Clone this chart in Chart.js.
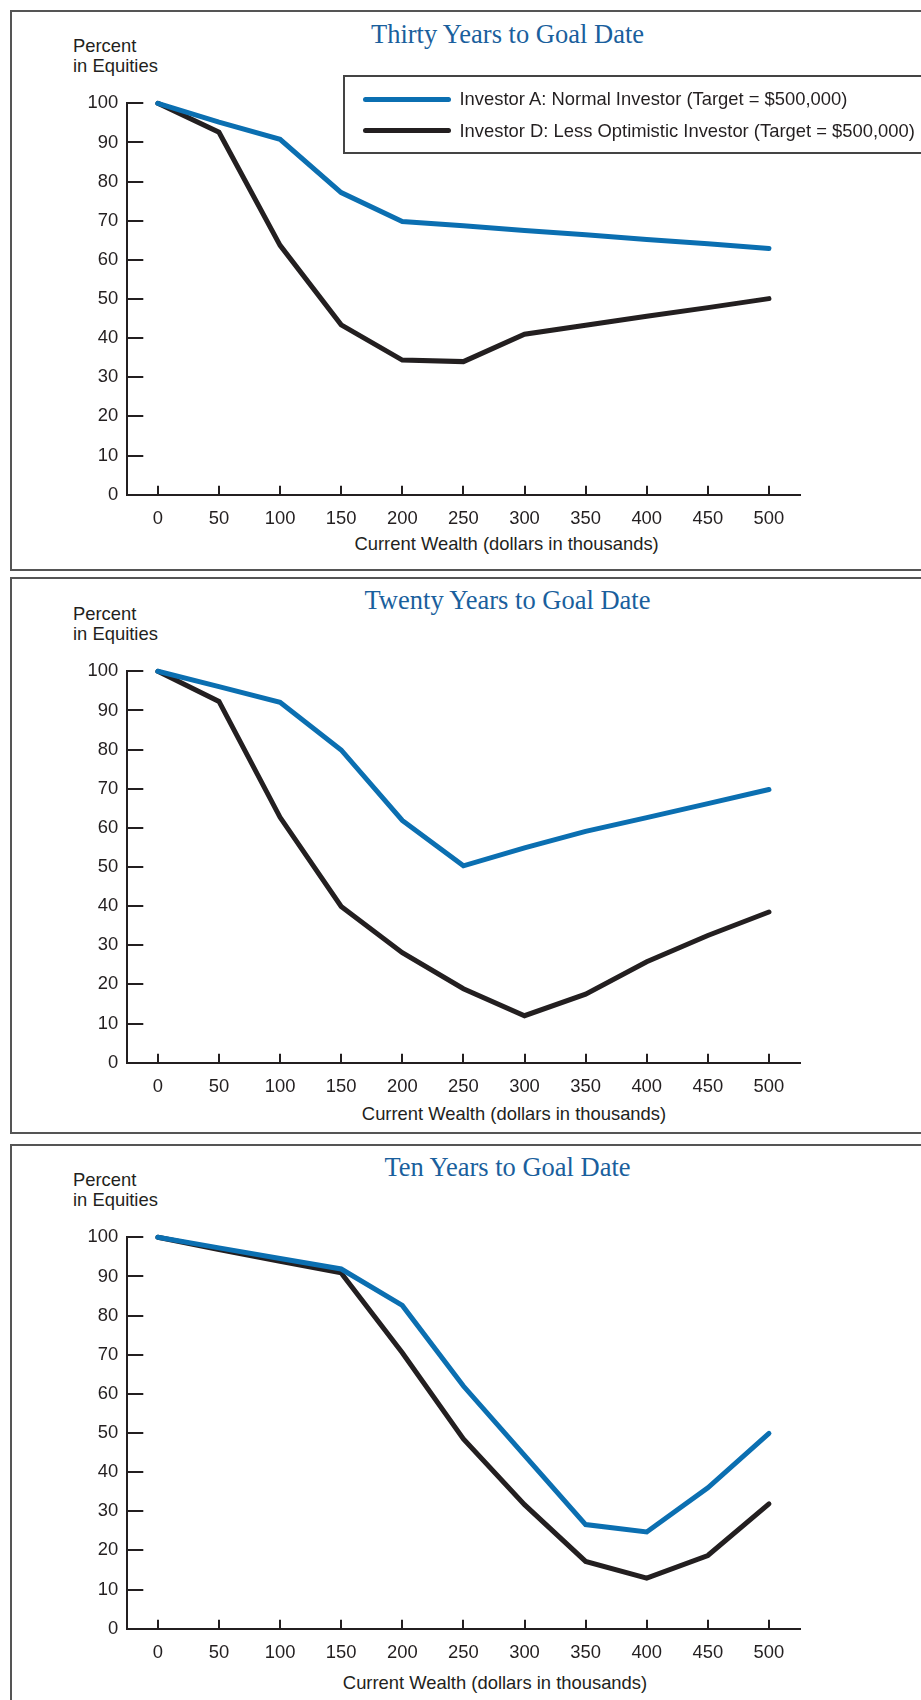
<!DOCTYPE html>
<html>
<head>
<meta charset="utf-8">
<script src="https://cdn.jsdelivr.net/npm/chart.js@4.4.1/dist/chart.umd.min.js"></script>
<style>
  html, body { margin: 0; padding: 0; width: 921px; height: 1700px; overflow: hidden; background: #fff; }
  body { position: relative; font-family: "Liberation Sans", Arial, Helvetica, sans-serif; color: #231f20; }
  .frame { position: absolute; left: 10px; width: 1000px; border: 2px solid #555; box-sizing: border-box; }
  canvas { position: absolute; left: 0; }
  .title { position: absolute; width: 600px; margin-left: -300px; text-align: center; white-space: nowrap;
           font: 26.5px/30px "Liberation Serif", "Times New Roman", serif; color: #1a5f9d; }
  .ylab { position: absolute; left: 73px; font-size: 18.4px; line-height: 20px; }
  .xlab { position: absolute; width: 500px; margin-left: -250px; text-align: center; white-space: nowrap;
          font-size: 18.4px; line-height: 20px; }
  #legend { position: absolute; left: 343px; top: 75px; width: 700px; height: 79px; border: 2px solid #444; box-sizing: border-box; }
  .leg-row { position: absolute; left: 0; width: 690px; height: 20px; line-height: 20px; font-size: 18.4px; white-space: nowrap; }
  .leg-line { position: absolute; left: 18px; top: 7.5px; width: 88px; height: 5px; border-radius: 2.5px; }
  .leg-text { position: absolute; left: 114.5px; top: 0; }
</style>
</head>
<body>

<script>
// x axis: current wealth, thousands of dollars
const wealth = [0, 50, 100, 150, 200, 250, 300, 350, 400, 450, 500];
const pctTicks = [0, 10, 20, 30, 40, 50, 60, 70, 80, 90, 100];

// Thirty years to goal date
const thirtyA = [100, 95.2, 90.8, 77.2, 69.8, 68.7, 67.5, 66.4, 65.2, 64.1, 62.9];
const thirtyD = [100, 92.6, 63.7, 43.4, 34.4, 34.0, 41.0, 43.3, 45.6, 47.8, 50.1];

// Twenty years to goal date
const twentyA = [100, 96.1, 92.1, 79.9, 61.9, 50.3, 54.9, 59.1, 62.6, 66.2, 69.8];
const twentyD = [100, 92.3, 62.7, 39.9, 28.1, 18.9, 12.0, 17.5, 25.8, 32.5, 38.5];

// Ten years to goal date
const tenA = [100, 97.3, 94.6, 91.9, 82.6, 62.0, 44.3, 26.6, 24.7, 36.0, 49.9];
const tenD = [100, 96.9, 93.9, 90.9, 70.5, 48.5, 31.7, 17.2, 12.9, 18.7, 31.9];

const titles = ["Thirty Years to Goal Date", "Twenty Years to Goal Date", "Ten Years to Goal Date"];
const seriesNames = [
  "Investor A: Normal Investor (Target = $500,000)",
  "Investor D: Less Optimistic Investor (Target = $500,000)"
];
const seriesColors = ["#0b6fb1", "#231f20"];
const ink = "#231f20";
const sans = '"Liberation Sans", Arial, Helvetica, sans-serif';

// page layout of the three stacked panels
const panels = [
  { a: thirtyA, d: thirtyD, top: 0,    frameTop: 10,   frameH: 561, titleTop: 18.5,   capX: 506.6, capTop: 533.5 },
  { a: twentyA, d: twentyD, top: 568,  frameTop: 577,  frameH: 557, titleTop: 585,    capX: 514,   capTop: 1104.3 },
  { a: tenA,    d: tenD,    top: 1134, frameTop: 1144, frameH: 600, titleTop: 1151.7, capX: 495,   capTop: 1672.7 }
];

const addDiv = (cls, text, css) => {
  const el = document.createElement("div");
  el.className = cls;
  if (text) el.textContent = text;
  Object.assign(el.style, css);
  document.body.appendChild(el);
  return el;
};

const toPoints = arr => wealth.map((x, i) => ({ x, y: arr[i] }));

const makeChart = (p, idx) => {
  addDiv("frame", "", { top: p.frameTop + "px", height: p.frameH + "px" });
  addDiv("title", titles[idx], { left: "507.5px", top: p.titleTop + "px" });
  addDiv("ylab", "Percent", { top: (p.top + 35.9) + "px" });
  addDiv("ylab", "in Equities", { top: (p.top + 55.9) + "px" });
  addDiv("xlab", "Current Wealth (dollars in thousands)", { left: p.capX + "px", top: p.capTop + "px" });

  const canvas = document.createElement("canvas");
  canvas.width = 921;
  canvas.height = 567;
  canvas.style.top = p.top + "px";
  document.body.appendChild(canvas);

  return new Chart(canvas, {
    type: "line",
    data: {
      datasets: [p.a, p.d].map((arr, i) => ({
        label: seriesNames[i],
        data: toPoints(arr),
        borderColor: seriesColors[i],
        backgroundColor: seriesColors[i],
        borderWidth: 5,
        borderCapStyle: "round",
        pointRadius: 0,
        tension: 0,
        clip: false
      }))
    },
    options: {
      responsive: false,
      animation: false,
      events: [],
      layout: { padding: { top: 103.3, right: 121.5, bottom: 32.3, left: 0 } },
      plugins: { legend: { display: false }, tooltip: { enabled: false } },
      scales: {
        x: {
          type: "linear",
          min: -25,
          max: 525,
          afterBuildTicks: s => { s.ticks = wealth.map(v => ({ value: v })); },
          afterFit: s => { s.height = 40; },
          grid: { drawOnChartArea: false, drawTicks: true, tickLength: -9, color: ink, lineWidth: 2 },
          border: { display: true, color: ink, width: 2 },
          ticks: { color: ink, font: { family: sans, size: 18.4 }, padding: 22.5, maxRotation: 0, autoSkip: false }
        },
        y: {
          min: 0,
          max: 100,
          afterBuildTicks: s => { s.ticks = pctTicks.map(v => ({ value: v })); },
          afterFit: s => { s.width = 127.3; },
          grid: { drawOnChartArea: false, drawTicks: true, tickLength: -16, color: ink, lineWidth: 2 },
          border: { display: true, color: ink, width: 2 },
          ticks: { color: ink, font: { family: sans, size: 18.4 }, padding: 25, autoSkip: false }
        }
      }
    }
  });
};

const charts = panels.map(makeChart);

// legend box (top panel only), built from the first chart's datasets
const legend = addDiv("", "", {});
legend.id = "legend";
charts[0].data.datasets.forEach((ds, i) => {
  const row = document.createElement("div");
  row.className = "leg-row";
  row.style.top = (12 + i * 31.5) + "px";
  const line = document.createElement("span");
  line.className = "leg-line";
  line.style.background = ds.borderColor;
  const txt = document.createElement("span");
  txt.className = "leg-text";
  txt.textContent = ds.label;
  row.appendChild(line);
  row.appendChild(txt);
  legend.appendChild(row);
});
</script>
</body>
</html>
